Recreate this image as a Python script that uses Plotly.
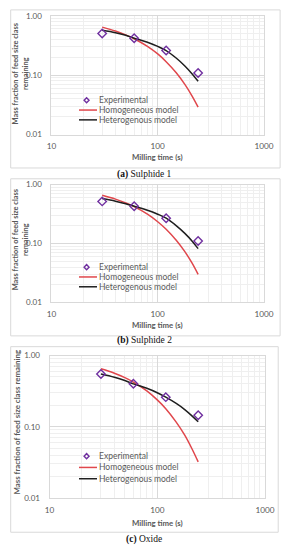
import plotly.graph_objects as go

# ---------------- data ----------------
exp_time = [30, 60, 120, 240]
model_time = [30, 40, 50, 60, 80, 100, 120, 150, 180, 210, 240]

s1_exp = [0.505, 0.42, 0.26, 0.109]
s1_homo = [0.645, 0.553, 0.477, 0.411, 0.306, 0.228, 0.169, 0.109, 0.070, 0.045, 0.029]
s1_hetero = [0.57, 0.52, 0.47, 0.42, 0.358, 0.305, 0.26, 0.193, 0.143, 0.106, 0.079]

s2_exp = [0.52, 0.43, 0.27, 0.111]
s2_homo = [0.66, 0.569, 0.49, 0.424, 0.316, 0.235, 0.175, 0.113, 0.073, 0.047, 0.030]
s2_hetero = [0.58, 0.525, 0.475, 0.43, 0.368, 0.315, 0.27, 0.20, 0.149, 0.111, 0.082]

ox_exp = [0.55, 0.40, 0.26, 0.145]
ox_homo = [0.65, 0.563, 0.488, 0.423, 0.318, 0.238, 0.179, 0.116, 0.076, 0.049, 0.032]
ox_hetero = [0.55, 0.495, 0.445, 0.40, 0.346, 0.30, 0.26, 0.212, 0.174, 0.142, 0.117]

x_tickvals = [10, 100, 1000]
x_ticktext = ["10", "100", "1000"]
y_tickvals = [0.01, 0.1, 1]
y_ticktext = ["0.01", "0.10", "1.00"]

captions = ["<b>(a)</b> Sulphide 1", "<b>(b)</b> Sulphide 2", "<b>(c)</b> Oxide"]
legend_names = ["Experimental", "Homogeneous model", "Heterogenous model"]
x_title = "Milling time (s)"

# ---------------- layout helpers ----------------
W, H = 292, 550
def px(x):
    return x / W
def py(y):
    return 1 - y / H

RED = "#E0474C"
BLACK = "#1f1f1f"
PURPLE = "#7030A0"
GRID = "#d9d9d9"
MINOR = "#efefef"
TXT = "#595959"
FONT = "Lato"

panels = [
    dict(exp=s1_exp, homo=s1_homo, het=s1_hetero,
         xd=(49, 273), yd=(11, 132), box=(6, 5, 290, 166),
         ytitle="Mass fraction of feed size class<br>remaining", yt_x=16.5, yt_y=70, yt_size=7.4,
         xt_y=155, cap_y=173, leg=(86, [97, 107, 117])),
    dict(exp=s2_exp, homo=s2_homo, het=s2_hetero,
         xd=(49, 273), yd=(183, 303), box=(6, 177, 290, 337),
         ytitle="Mass fraction of feed size class<br>remaining", yt_x=16.5, yt_y=239, yt_size=7.4,
         xt_y=326, cap_y=342, leg=(86, [267, 277, 287])),
    dict(exp=ox_exp, homo=ox_homo, het=ox_hetero,
         xd=(47, 274), yd=(357, 502), box=(6, 348, 288, 537),
         ytitle="Mass fraction of feed size class remaining", yt_x=13, yt_y=424, yt_size=7.9,
         xt_y=528, cap_y=544, leg=(86, [459.5, 471, 482.5])),
]

fig = go.Figure()
shapes = []
annotations = []
layout_axes = {}

for i, p in enumerate(panels):
    n = "" if i == 0 else str(i + 1)
    xa, ya = "x" + n, "y" + n
    fig.add_trace(go.Scatter(x=model_time, y=p["homo"], mode="lines", xaxis=xa, yaxis=ya,
                             line=dict(color=RED, width=1.5, shape="spline", smoothing=1.0),
                             showlegend=False, name=legend_names[1]))
    fig.add_trace(go.Scatter(x=model_time, y=p["het"], mode="lines", xaxis=xa, yaxis=ya,
                             line=dict(color=BLACK, width=1.5, shape="spline", smoothing=1.0),
                             showlegend=False, name=legend_names[2]))
    fig.add_trace(go.Scatter(x=exp_time, y=p["exp"], mode="markers", xaxis=xa, yaxis=ya,
                             marker=dict(symbol="diamond-open", size=6.5, color=PURPLE,
                                         line=dict(width=1.4, color=PURPLE)),
                             showlegend=False, name=legend_names[0]))
    layout_axes["xaxis" + n] = dict(
        type="log", range=[1, 3], domain=[px(p["xd"][0]), px(p["xd"][1])],
        anchor=ya, tickvals=x_tickvals, ticktext=x_ticktext,
        tickfont=dict(family=FONT, size=8.2, color=TXT),
        showgrid=True, gridcolor=GRID, gridwidth=1,
        minor=dict(showgrid=True, gridcolor=MINOR, gridwidth=1, dtick="D1"),
        showline=True, linecolor=GRID, linewidth=1, mirror=True,
        ticks="", ticklabelstandoff=4, zeroline=False, fixedrange=True)
    layout_axes["yaxis" + n] = dict(
        type="log", range=[-2, 0], domain=[py(p["yd"][1]), py(p["yd"][0])],
        anchor=xa, tickvals=y_tickvals, ticktext=y_ticktext,
        tickfont=dict(family=FONT, size=8, color=TXT),
        showgrid=True, gridcolor=GRID, gridwidth=1,
        minor=dict(showgrid=True, gridcolor=MINOR, gridwidth=1, dtick="D1"),
        showline=True, linecolor=GRID, linewidth=1, mirror=True,
        ticks="", ticklabelstandoff=7, zeroline=False, fixedrange=True)

    bx0, by0, bx1, by1 = p["box"]
    shapes.append(dict(type="rect", xref="paper", yref="paper",
                       x0=px(bx0), x1=px(bx1), y0=py(by1), y1=py(by0),
                       line=dict(color="#d9d9d9", width=1), layer="below"))
    ytxt = "<b>" + p["ytitle"].replace("<br>", "</b><br><b>") + "</b>"
    annotations.append(dict(text=ytxt, xref="paper", yref="paper",
                            x=px(p["yt_x"]), y=py(p["yt_y"]), textangle=-90,
                            showarrow=False, xanchor="center", yanchor="middle",
                            font=dict(family=FONT, size=p["yt_size"], color=TXT)))
    annotations.append(dict(text="<b>" + x_title + "</b>", xref="paper", yref="paper",
                            x=px(161), y=py(p["xt_y"]), showarrow=False,
                            xanchor="center", yanchor="middle",
                            font=dict(family=FONT, size=7.8, color=TXT)))
    annotations.append(dict(text=captions[i], xref="paper", yref="paper",
                            x=px(147), y=py(p["cap_y"]), showarrow=False,
                            xanchor="center", yanchor="middle",
                            font=dict(family="Liberation Serif", size=9.5, color="#111111")))
    lx, rows = p["leg"]
    d = 2.6
    cx, cy = lx, rows[0]
    shapes.append(dict(type="path", xref="paper", yref="paper",
                       path=f"M{px(cx)},{py(cy-d)} L{px(cx+d)},{py(cy)} L{px(cx)},{py(cy+d)} L{px(cx-d)},{py(cy)} Z",
                       line=dict(color=PURPLE, width=1.4)))
    shapes.append(dict(type="line", xref="paper", yref="paper",
                       x0=px(lx - 8), x1=px(lx + 11), y0=py(rows[1]), y1=py(rows[1]),
                       line=dict(color=RED, width=1.5)))
    shapes.append(dict(type="line", xref="paper", yref="paper",
                       x0=px(lx - 8), x1=px(lx + 11), y0=py(rows[2]), y1=py(rows[2]),
                       line=dict(color=BLACK, width=1.5)))
    for k in range(3):
        annotations.append(dict(text=legend_names[k], xref="paper", yref="paper",
                                x=px(lx + 11.5), y=py(rows[k]), showarrow=False,
                                xanchor="left", yanchor="middle",
                                font=dict(family=FONT, size=8.5, color=TXT)))

fig.update_layout(
    width=W, height=H, margin=dict(l=0, r=0, t=0, b=0),
    paper_bgcolor="white", plot_bgcolor="white",
    showlegend=False, shapes=shapes, annotations=annotations,
    **layout_axes)

fig.write_html("out.html", config={"displayModeBar": False},
               post_script="document.body.style.margin='0';document.body.style.padding='0';document.body.style.overflow='hidden';")
